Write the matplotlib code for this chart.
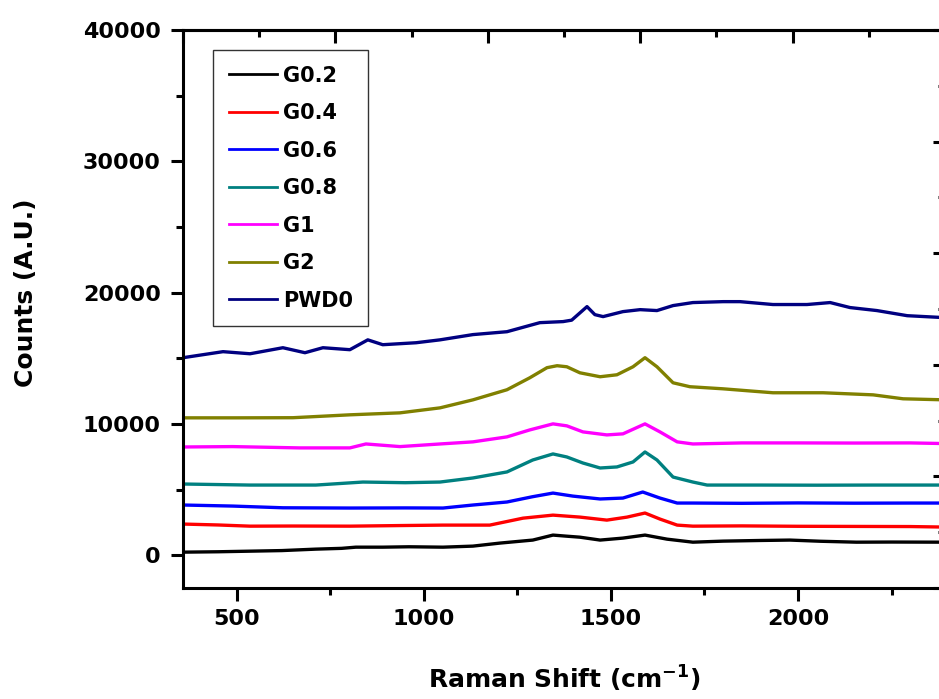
import matplotlib.pyplot as plt
import numpy as np

plt.rcParams['font.family'] = 'DejaVu Sans'
plt.rcParams['font.weight'] = 'bold'
plt.rcParams['mathtext.default'] = 'bf'

# Raman spectra (shift in cm-1, counts)
x_g02 = [356, 450, 535, 620, 711, 780, 818, 890, 960, 1051, 1131, 1203, 1291, 1345,
         1380, 1417, 1471, 1532, 1591, 1650, 1719, 1800, 1900, 1978, 2060, 2156, 2250, 2393]
y_g02 = [230, 260, 305, 350, 460, 520, 610, 610, 640, 610, 690, 920, 1150, 1530,
         1450, 1370, 1150, 1300, 1530, 1220, 990, 1070, 1120, 1150, 1060, 990, 1000, 990]

x_g04 = [356, 450, 535, 650, 802, 950, 1051, 1176, 1265, 1345, 1417, 1489, 1543,
         1591, 1631, 1677, 1719, 1850, 2000, 2150, 2300, 2393]
y_g04 = [2370, 2300, 2210, 2220, 2210, 2260, 2290, 2290, 2820, 3050, 2900, 2670, 2900,
         3210, 2750, 2290, 2210, 2230, 2200, 2190, 2180, 2140]

x_g06 = [356, 489, 623, 802, 950, 1051, 1131, 1222, 1290, 1345, 1398, 1471, 1532,
         1585, 1631, 1677, 1719, 1850, 2000, 2150, 2300, 2393]
y_g06 = [3820, 3740, 3610, 3590, 3600, 3590, 3820, 4050, 4450, 4730, 4500, 4280, 4350,
         4810, 4350, 3970, 3970, 3950, 3980, 3960, 3970, 3970]

x_g08 = [356, 535, 711, 837, 950, 1043, 1131, 1222, 1291, 1345, 1382, 1425, 1471,
         1516, 1559, 1591, 1623, 1666, 1719, 1757, 1900, 2050, 2200, 2393]
y_g08 = [5420, 5340, 5340, 5570, 5520, 5570, 5880, 6340, 7250, 7710, 7480, 7020, 6640,
         6720, 7100, 7860, 7250, 5950, 5570, 5340, 5340, 5330, 5340, 5340]

x_g1 = [356, 489, 668, 802, 845, 936, 1043, 1131, 1222, 1283, 1345, 1382, 1425, 1489,
        1532, 1591, 1631, 1677, 1719, 1850, 2000, 2150, 2300, 2393]
y_g1 = [8240, 8270, 8170, 8170, 8470, 8270, 8470, 8630, 9010, 9540, 10000, 9850, 9390,
        9160, 9240, 10000, 9390, 8630, 8470, 8550, 8550, 8540, 8550, 8500]

x_g2 = [356, 500, 650, 802, 936, 1043, 1131, 1222, 1283, 1329, 1356, 1382, 1417, 1471,
        1516, 1559, 1591, 1623, 1666, 1711, 1800, 1933, 2067, 2201, 2281, 2393]
y_g2 = [10460, 10460, 10470, 10690, 10840, 11220, 11830, 12600, 13510, 14280, 14430,
        14350, 13890, 13590, 13740, 14350, 15040, 14350, 13130, 12830, 12670, 12370,
        12370, 12210, 11910, 11830]

x_pwd0 = [356, 463, 535, 623, 682, 730, 802, 850, 890, 979, 1043, 1131, 1222, 1310,
          1372, 1395, 1436, 1457, 1479, 1532, 1578, 1623, 1666, 1719, 1800, 1845, 1933,
          2024, 2086, 2139, 2211, 2292, 2393]
y_pwd0 = [15040, 15500, 15340, 15800, 15420, 15800, 15650, 16400, 16030, 16180, 16400,
          16800, 17020, 17710, 17790, 17900, 18930, 18320, 18170, 18550, 18700, 18630,
          19010, 19240, 19310, 19310, 19090, 19090, 19240, 18860, 18630, 18240, 18090]

labels = ['G0.2', 'G0.4', 'G0.6', 'G0.8', 'G1', 'G2', 'PWD0']
colors = ['#000000', '#ff0000', '#0000ff', '#008080', '#ff00ff', '#808000', '#000080']
xs = [x_g02, x_g04, x_g06, x_g08, x_g1, x_g2, x_pwd0]
ys = [y_g02, y_g04, y_g06, y_g08, y_g1, y_g2, y_pwd0]

xmin, xmax = 356, 2393
ymin, ymax = -2500, 40000

fig = plt.figure(figsize=(9.39, 6.99), dpi=100)
ax = fig.add_axes([0.1949, 0.1588, 0.8115, 0.7983])

for x, y, c, lab in zip(xs, ys, colors, labels):
    ax.plot(x, y, color=c, lw=2.4, label=lab)

ax.set_xlim(xmin, xmax)
ax.set_ylim(ymin, ymax)
ax.set_xticks([500, 1000, 1500, 2000])
ax.set_xticks([750, 1250, 1750, 2250], minor=True)
ax.set_yticks([0, 10000, 20000, 30000, 40000])
ax.set_yticks([5000, 15000, 25000, 35000], minor=True)
ax.tick_params(which='major', direction='out', length=9, width=2.2, labelsize=16, pad=6)
ax.tick_params(which='minor', direction='out', length=5, width=2.2)
ax.tick_params(axis='y', pad=7)
for sp in ax.spines.values():
    sp.set_linewidth(2.2)

# top and right axes: 5 divisions over the full range, ticks inside
top = ax.secondary_xaxis('top')
top.set_xticks(np.linspace(xmin, xmax, 6))
top.set_xticks(np.linspace(xmin, xmax, 11)[1::2], minor=True)
top.set_xticklabels([])
top.tick_params(which='major', direction='in', length=9, width=2.2)
top.tick_params(which='minor', direction='in', length=5, width=2.2)
top.spines['top'].set_linewidth(2.2)

right = ax.secondary_yaxis('right')
right.set_yticks(np.linspace(ymin, ymax, 6))
right.set_yticks(np.linspace(ymin, ymax, 11)[1::2], minor=True)
right.set_yticklabels([])
right.tick_params(which='major', direction='in', length=9, width=2.2)
right.tick_params(which='minor', direction='in', length=5, width=2.2)
right.spines['right'].set_linewidth(2.2)

ax.set_xlabel(r'Raman Shift (cm$^{-1}$)', fontsize=18, fontweight='bold')
ax.xaxis.set_label_coords(0.5, -0.135)
ax.set_ylabel('Counts (A.U.)', fontsize=18, fontweight='bold')
ax.yaxis.set_label_coords(-0.19, 0.53)

leg = ax.legend(loc='upper left', bbox_to_anchor=(213 / 939, 1 - 50 / 699),
                bbox_transform=fig.transFigure, borderaxespad=0, fontsize=15,
                handlelength=2.3, handletextpad=0.3, labelspacing=0.84,
                borderpad=0.75, fancybox=False, frameon=True)
leg.get_frame().set_edgecolor('black')
leg.get_frame().set_linewidth(1.0)
for h in leg.get_lines():
    h.set_linewidth(2.0)

fig.savefig('out.png', dpi=100)
